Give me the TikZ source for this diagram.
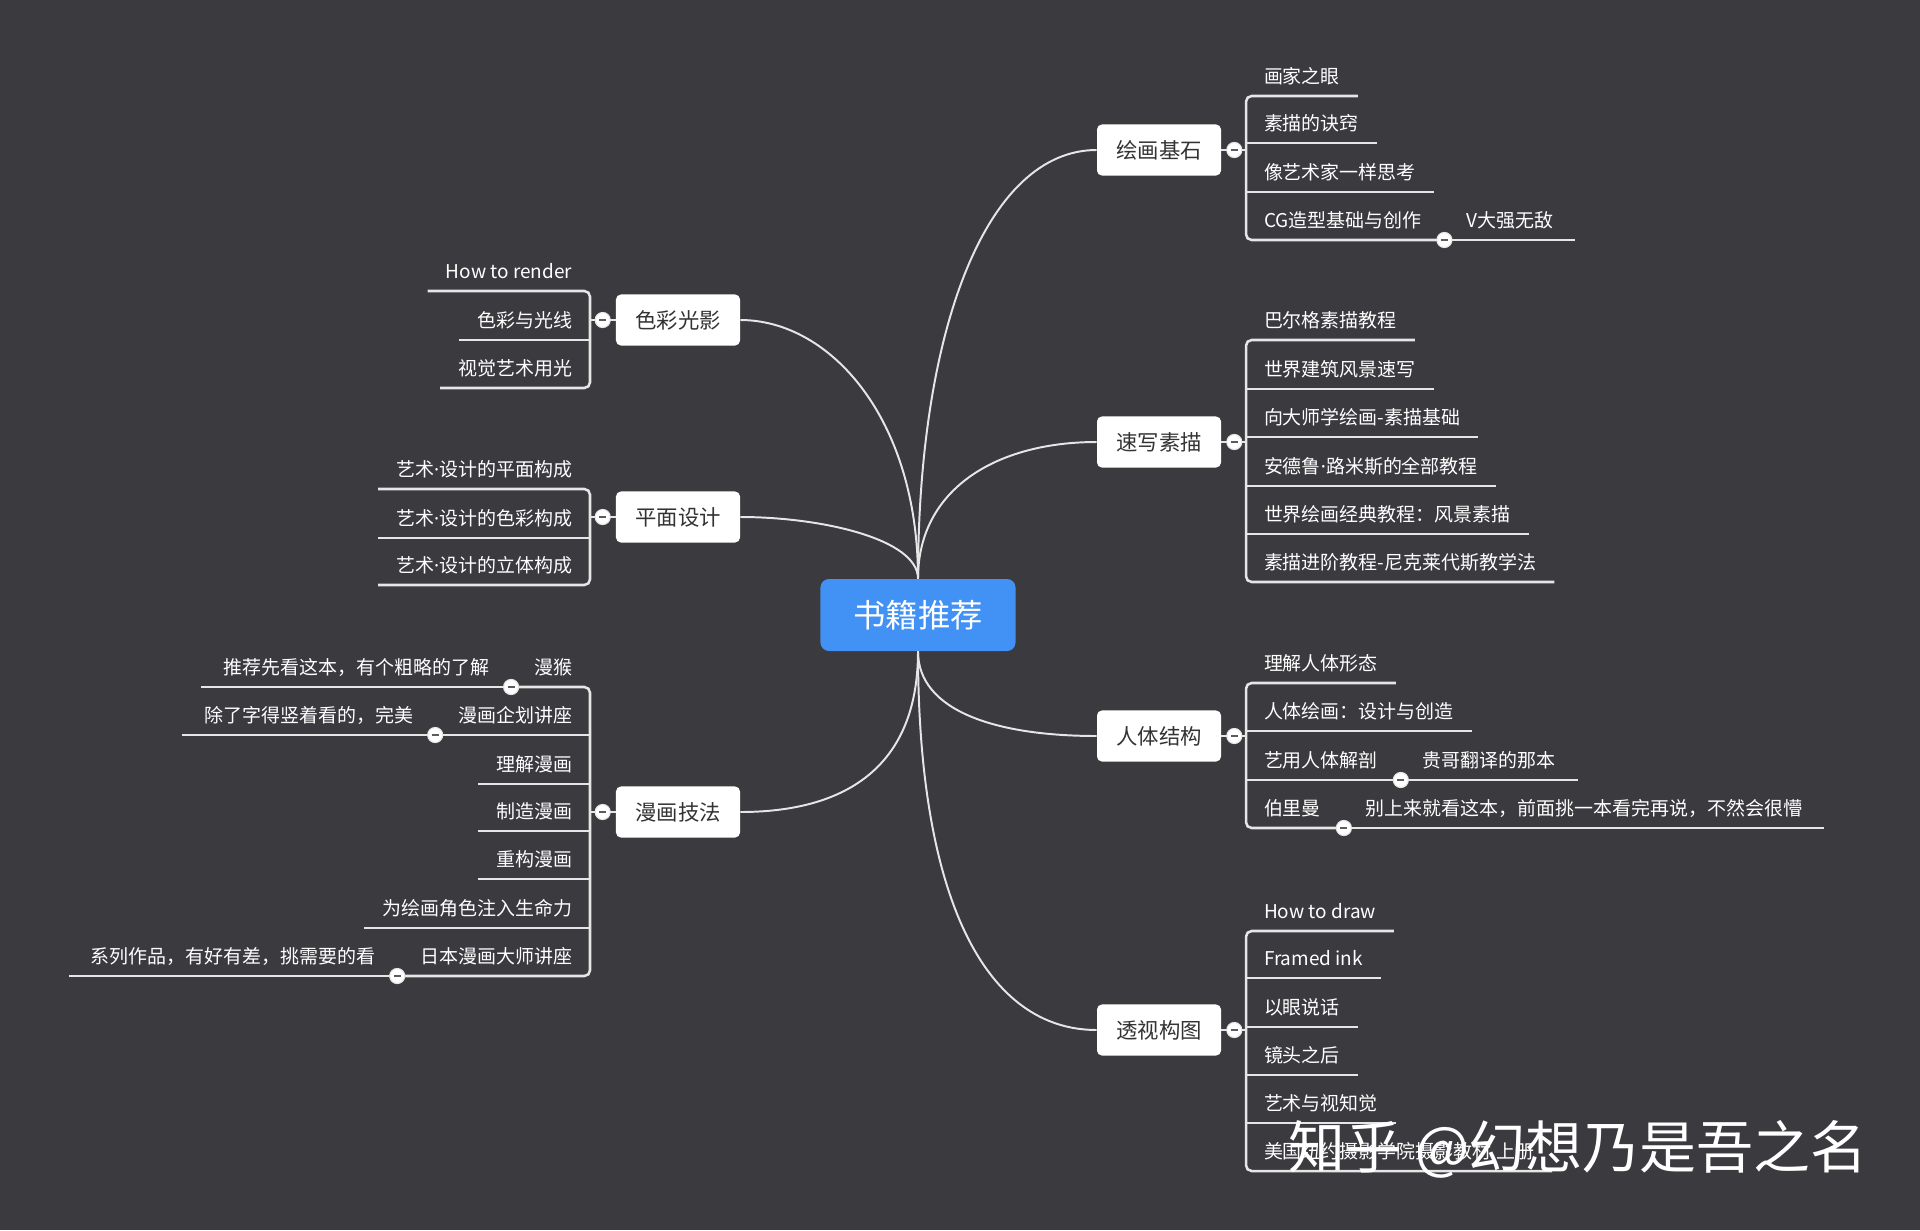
\documentclass[tikz,border=0pt]{standalone}
\usepackage{fontspec}
\setmainfont{Noto Sans CJK SC}
\newfontfamily\dotfont{Noto Sans}
\newcommand{\mdot}{{\dotfont ·}}
\usepackage{tikz}
\usetikzlibrary{positioning}
\definecolor{bgc}{RGB}{58,58,63}
\definecolor{hubc}{RGB}{66,145,245}
\definecolor{twigc}{RGB}{230,230,230}
\definecolor{boxtext}{RGB}{51,51,51}
\definecolor{knobc}{RGB}{90,90,95}
\tikzset{
	hub/.style={fill=hubc, rounded corners=6pt, minimum width=138.7pt, minimum height=51.2pt, text=white, font=\fontsize{23}{26}\selectfont},
	topic/.style={fill=white, rounded corners=3.5pt, minimum width=88.2pt, minimum height=36.3pt, text=boxtext, font=\fontsize{15.2}{18}\selectfont},
	leafR/.style={anchor=south west, inner xsep=12.8pt, inner ysep=0pt, text depth=0pt, outer xsep=0pt, outer ysep=8.8pt, text=white, font=\fontsize{13.5}{16}\selectfont},
	leafL/.style={leafR, anchor=south east},
	subR/.style={leafR, inner xsep=15.6pt},
	subL/.style={subR, anchor=south east},
	limb/.style={draw=twigc, line width=1.4pt},
	twig/.style={draw=twigc, line width=1.8pt, rounded corners=4pt},
	knob/.style={circle, fill=white, draw=twigc, line width=0.8pt, minimum size=10.7pt, inner sep=0pt, path picture={\draw[knobc, line width=1.3pt] ([xshift=-2.5pt]path picture bounding box.center) -- ([xshift=2.5pt]path picture bounding box.center);}},
	stamp/.style={text=white, font=\fontsize{40.5}{44}\selectfont}
}
\begin{document}
\begin{tikzpicture}[x=0.025cm, y=-0.025cm]
	\fill[bgc] (0,0) rectangle (1920,1230);
	\useasboundingbox (0,0) rectangle (1920,1230);
	
	\node[hub] (hub) at (918,615) {书籍推荐};
	\draw (1159,150) node[topic] (n1) {绘画基石}
		(1159,442) node[topic] (n2) {速写素描}
		(1159,736) node[topic] (n3) {人体结构}
		(1159,1030) node[topic] (n4) {透视构图}
		(678,320) node[topic] (n5) {色彩光影}
		(678,517) node[topic] (n6) {平面设计}
		(678,812) node[topic] (n7) {漫画技法};
	
	\coordinate (b1) at (1246,150);
	\coordinate (b2) at (1246,442);
	\coordinate (b3) at (1246,736);
	\coordinate (b4) at (1246,1030);
	\coordinate (b5) at (590,320);
	\coordinate (b6) at (590,517);
	\coordinate (b7) at (590,812);
	
	\draw (1246,96) node[leafR] (l11) {画家之眼}
		(1246,143) node[leafR] (l12) {素描的诀窍}
		(1246,192) node[leafR] (l13) {像艺术家一样思考}
		(1246,240) node[leafR] (l14) {CG造型基础与创作};
	\node[subR] (s14) at ([xshift=3.5pt]l14.south east) {V大强无敌};
	
	\draw (1246,340) node[leafR] (l21) {巴尔格素描教程}
		(1246,389) node[leafR] (l22) {世界建筑风景速写}
		(1246,437) node[leafR] (l23) {向大师学绘画-素描基础}
		(1246,486) node[leafR] (l24) {安德鲁\mdot 路米斯的全部教程}
		(1246,534) node[leafR] (l25) {世界绘画经典教程：风景素描}
		(1246,582) node[leafR] (l26) {素描进阶教程-尼克莱代斯教学法};
	
	\draw (1246,683) node[leafR] (l31) {理解人体形态}
		(1246,731) node[leafR] (l32) {人体绘画：设计与创造}
		(1246,780) node[leafR] (l33) {艺用人体解剖}
		(1246,828) node[leafR] (l34) {伯里曼};
	\node[subR] (s33) at ([xshift=3.5pt]l33.south east) {贵哥翻译的那本};
	\node[subR] (s34) at ([xshift=3.5pt]l34.south east) {别上来就看这本，前面挑一本看完再说，不然会很懵};
	
	\draw (1246,931) node[leafR] (l41) {How to draw}
		(1246,978) node[leafR] (l42) {Framed ink}
		(1246,1027) node[leafR] (l43) {以眼说话}
		(1246,1075) node[leafR] (l44) {镜头之后}
		(1246,1123) node[leafR] (l45) {艺术与视知觉}
		(1246,1171) node[leafR] (l46) {美国纽约摄影学院摄影教材 上册};
	
	\draw (590,291) node[leafL] (l51) {How to render}
		(590,340) node[leafL] (l52) {色彩与光线}
		(590,388) node[leafL] (l53) {视觉艺术用光};
	
	\draw (590,489) node[leafL] (l61) {艺术\mdot 设计的平面构成}
		(590,538) node[leafL] (l62) {艺术\mdot 设计的色彩构成}
		(590,585) node[leafL] (l63) {艺术\mdot 设计的立体构成};
	
	\draw (590,687) node[leafL] (l71) {漫猴}
		(590,735) node[leafL] (l72) {漫画企划讲座}
		(590,784) node[leafL] (l73) {理解漫画}
		(590,831) node[leafL] (l74) {制造漫画}
		(590,879) node[leafL] (l75) {重构漫画}
		(590,928) node[leafL] (l76) {为绘画角色注入生命力}
		(590,976) node[leafL] (l77) {日本漫画大师讲座};
	\node[subL] (s71) at ([xshift=-3.5pt]l71.south west) {推荐先看这本，有个粗略的了解};
	\node[subL] (s72) at ([xshift=-3.5pt]l72.south west) {除了字得竖着看的，完美};
	\node[subL] (s77) at ([xshift=-3.5pt]l77.south west) {系列作品，有好有差，挑需要的看};
	
	\draw[limb] (hub.north) .. controls +(0,-250) and +(-110,0) .. (n1.west);
	\draw[limb] (hub.north) .. controls +(0,-90) and +(-100,0) .. (n2.west);
	\draw[limb] (hub.south) .. controls +(0,60) and +(-100,0) .. (n3.west);
	\draw[limb] (hub.south) .. controls +(0,250) and +(-110,0) .. (n4.west);
	\draw[limb] (hub.north) .. controls +(0,-160) and +(90,0) .. (n5.east);
	\draw[limb] (hub.north) .. controls +(0,-40) and +(80,0) .. (n6.east);
	\draw[limb] (hub.south) .. controls +(0,120) and +(100,0) .. (n7.east);
	
	\draw[twig] (n1.east) -- (b1);
	\draw[twig] (l11.south east) -| (b1) |- (l14.south east);
	\draw[twig] (b1 |- l12.south) -- (l12.south east);
	\draw[twig] (b1 |- l13.south) -- (l13.south east);
	\draw[twig] (l14.south east) -- (s14.south east);
	
	\draw[twig] (n2.east) -- (b2);
	\draw[twig] (l21.south east) -| (b2) |- (l26.south east);
	\draw[twig] (b2 |- l22.south) -- (l22.south east);
	\draw[twig] (b2 |- l23.south) -- (l23.south east);
	\draw[twig] (b2 |- l24.south) -- (l24.south east);
	\draw[twig] (b2 |- l25.south) -- (l25.south east);
	
	\draw[twig] (n3.east) -- (b3);
	\draw[twig] (l31.south east) -| (b3) |- (l34.south east);
	\draw[twig] (b3 |- l32.south) -- (l32.south east);
	\draw[twig] (b3 |- l33.south) -- (l33.south east);
	\draw[twig] (l33.south east) -- (s33.south east);
	\draw[twig] (l34.south east) -- (s34.south east);
	
	\draw[twig] (n4.east) -- (b4);
	\draw[twig] (l41.south east) -| (b4) |- (l46.south east);
	\draw[twig] (b4 |- l42.south) -- (l42.south east);
	\draw[twig] (b4 |- l43.south) -- (l43.south east);
	\draw[twig] (b4 |- l44.south) -- (l44.south east);
	\draw[twig] (b4 |- l45.south) -- (l45.south east);
	
	\draw[twig] (n5.west) -- (b5);
	\draw[twig] (l51.south west) -| (b5) |- (l53.south west);
	\draw[twig] (b5 |- l52.south) -- (l52.south west);
	
	\draw[twig] (n6.west) -- (b6);
	\draw[twig] (l61.south west) -| (b6) |- (l63.south west);
	\draw[twig] (b6 |- l62.south) -- (l62.south west);
	
	\draw[twig] (n7.west) -- (b7);
	\draw[twig] (l71.south west) -| (b7) |- (l77.south west);
	\draw[twig] (b7 |- l72.south) -- (l72.south west);
	\draw[twig] (b7 |- l73.south) -- (l73.south west);
	\draw[twig] (b7 |- l74.south) -- (l74.south west);
	\draw[twig] (b7 |- l75.south) -- (l75.south west);
	\draw[twig] (b7 |- l76.south) -- (l76.south west);
	\draw[twig] (l71.south west) -- (s71.south west);
	\draw[twig] (l72.south west) -- (s72.south west);
	\draw[twig] (l77.south west) -- (s77.south west);
	
	\node[knob, right=3.5pt of n1] {};
	\node[knob, right=3.5pt of n2] {};
	\node[knob, right=3.5pt of n3] {};
	\node[knob, right=3.5pt of n4] {};
	\node[knob, left=3.5pt of n5] {};
	\node[knob, left=3.5pt of n6] {};
	\node[knob, left=3.5pt of n7] {};
	\node[knob] at ([xshift=3.5pt]l14.south east) {};
	\node[knob] at ([xshift=3.5pt]l33.south east) {};
	\node[knob] at ([xshift=3.5pt]l34.south east) {};
	\node[knob] at ([xshift=-3.5pt]l71.south west) {};
	\node[knob] at ([xshift=-3.5pt]l72.south west) {};
	\node[knob] at ([xshift=-3.5pt]l77.south west) {};
	
	\node[stamp] (wm) at (1578,1149) {知乎 @幻想乃是吾之名};
\end{tikzpicture}
\end{document}
